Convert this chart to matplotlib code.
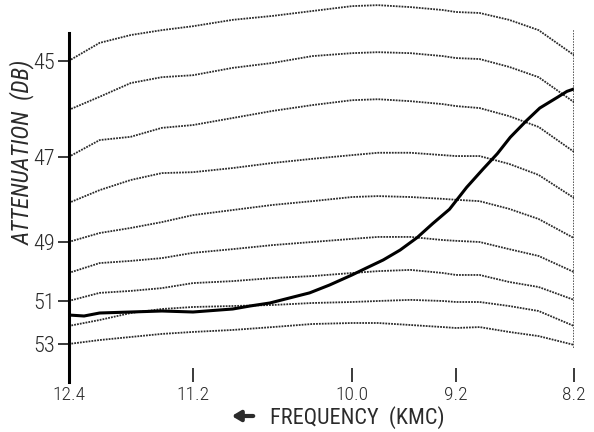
import numpy as np
import matplotlib

matplotlib.use("Agg")
import matplotlib.pyplot as plt

# frequency sample points (KMC) along the calibration traces
FREQ = [12.4, 12.1, 11.8, 11.5, 11.2, 10.9, 10.6, 10.3, 10.0, 9.8, 9.55, 9.3, 9.2, 9.0, 8.75, 8.5, 8.2]

# calibration traces, one per attenuator setting (dB)
CAL_45 = [45.0, 44.63, 44.47, 44.37, 44.29, 44.16, 44.08, 43.98, 43.88, 43.86, 43.90, 43.96, 44.00, 44.02, 44.16, 44.37, 44.88]
CAL_46 = [46.0, 45.73, 45.45, 45.33, 45.29, 45.14, 45.04, 44.90, 44.84, 44.82, 44.84, 44.90, 44.94, 44.96, 45.12, 45.33, 45.84]
CAL_47 = [47.0, 46.64, 46.57, 46.38, 46.32, 46.17, 46.02, 45.90, 45.80, 45.78, 45.82, 45.88, 45.92, 45.96, 46.13, 46.36, 46.89]
CAL_48 = [48.0, 47.72, 47.50, 47.35, 47.33, 47.24, 47.13, 47.04, 46.96, 46.91, 46.91, 46.96, 46.98, 46.98, 47.15, 47.39, 47.89]
CAL_49 = [49.0, 48.77, 48.64, 48.49, 48.31, 48.18, 48.05, 47.96, 47.87, 47.85, 47.87, 47.91, 47.93, 47.96, 48.15, 48.41, 48.90]
CAL_50 = [50.0, 49.68, 49.61, 49.52, 49.35, 49.23, 49.10, 49.00, 48.92, 48.87, 48.87, 48.95, 48.97, 49.00, 49.23, 49.45, 49.97]
CAL_51 = [51.0, 50.71, 50.64, 50.54, 50.36, 50.29, 50.18, 50.11, 50.00, 49.94, 49.90, 50.00, 50.07, 50.07, 50.32, 50.50, 50.96]
CAL_52 = [52.0, 51.76, 51.48, 51.32, 51.24, 51.20, 51.16, 51.08, 51.04, 51.00, 50.96, 51.00, 51.04, 51.04, 51.20, 51.40, 52.00]
CAL_53 = [53.0, 52.78, 52.61, 52.44, 52.33, 52.22, 52.06, 51.92, 51.88, 51.88, 51.96, 52.06, 52.11, 52.06, 52.33, 52.56, 53.05]

# measured sample (heavy trace)
SAMPLE_FREQ = [12.4, 12.25, 12.1, 11.8, 11.5, 11.2, 10.9, 10.77, 10.62, 10.47, 10.32, 10.17, 10.0, 9.89,
               9.76, 9.63, 9.50, 9.38, 9.25, 9.11, 8.97, 8.85, 8.74, 8.60, 8.49, 8.34, 8.26, 8.2]
SAMPLE = [51.56, 51.60, 51.48, 51.44, 51.40, 51.44, 51.32, 51.20, 51.08, 50.89, 50.71, 50.43, 50.07, 49.84,
          49.58, 49.26, 48.89, 48.53, 48.16, 47.66, 47.26, 46.93, 46.58, 46.22, 45.96, 45.74, 45.62, 45.57]

X_TICKS = [12.4, 11.2, 10.0, 9.2, 8.2]
Y_TICKS = [45, 47, 49, 51, 53]

# recorder chart paper is not linear in either axis: knots
FK = [7.0, 8.2, 9.2, 10.0, 11.2, 12.4, 14.0]
FT = [-715.6, -574, -456, -352, -193, -68.5, 97.5]
DK = [40, 45, 46, 47, 48, 49, 50, 51, 52, 53, 60]
DT = [-184, 61, 110, 157, 203, 242, 273, 301, 326, 344, 470]


def fx(v):
    return np.interp(v, FK, FT)


def fx_inv(v):
    return np.interp(v, FT, FK)


def fy(v):
    return np.interp(v, DK, DT)


def fy_inv(v):
    return np.interp(v, DT, DK)


plt.rcParams["font.family"] = ["Roboto Condensed", "Liberation Sans Narrow", "DejaVu Sans"]
plt.rcParams["font.stretch"] = "condensed"
plt.rcParams["font.weight"] = "light"
INK = "#2b2b2b"

fig = plt.figure(figsize=(5.94, 4.32), dpi=100)
ax = fig.add_axes([68.5 / 594, 50 / 432, (574 - 68.5) / 594, 382 / 432])
ax.set_xscale("function", functions=(fx, fx_inv))
ax.set_yscale("function", functions=(fy, fy_inv))
ax.set_xlim(12.4, 8.2)
ax.set_ylim(fy_inv(382), fy_inv(0))

for trace in (CAL_45, CAL_46, CAL_47, CAL_48, CAL_49, CAL_50, CAL_51, CAL_52, CAL_53):
    ax.plot(FREQ, trace, color=INK, lw=1.3, ls=(0, (1.0, 0.6)))
ax.plot(SAMPLE_FREQ, SAMPLE, color="black", lw=2.2, solid_capstyle="round", solid_joinstyle="round")

# sweep limit marker at the low-frequency end
ax.vlines(X_TICKS[-1], fy_inv(348), fy_inv(30), colors=INK, lw=1.1, linestyles=(0, (1.0, 0.8)))

for s in ("top", "right", "bottom"):
    ax.spines[s].set_visible(False)
ax.spines["left"].set_linewidth(2.2)
ax.spines["left"].set_bounds(fy_inv(382), fy_inv(33))

ax.set_xticks(X_TICKS)
ax.set_xticklabels([f"{v:.1f}" for v in X_TICKS])
ax.set_yticks(Y_TICKS)
ax.set_yticklabels([str(v) for v in Y_TICKS])
ax.minorticks_off()
ax.tick_params(axis="x", direction="in", length=10, width=1.3, pad=3, labelsize=14, colors=INK)
ax.tick_params(axis="y", direction="out", length=8, width=1.3, pad=1.5, labelsize=16, colors=INK)

ax.set_xlabel("FREQUENCY  (KMC)", fontsize=16, va="center", color=INK)
ax.xaxis.set_label_coords(0.571, -0.092)
ax.annotate("", xy=(229, 16), xytext=(256, 16), xycoords="figure pixels",
            arrowprops=dict(arrowstyle="-|>,head_length=0.5,head_width=0.3", lw=3, color=INK))
ax.set_ylabel("ATTENUATION  (DB)", fontsize=17, style="italic", va="center", color=INK)
ax.yaxis.set_label_coords(-0.092, 0.6)

fig.savefig("out.png", dpi=100)
